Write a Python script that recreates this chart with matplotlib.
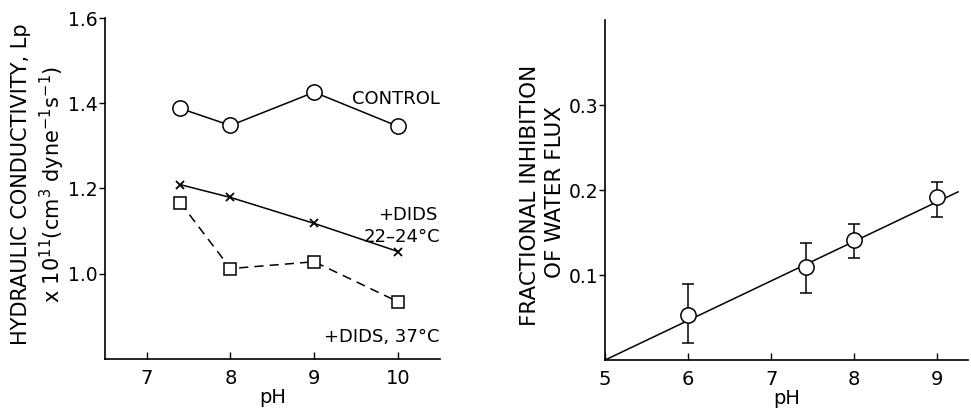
import matplotlib
matplotlib.use("Agg")
import matplotlib.pyplot as plt

plt.rcParams['font.family'] = ['DejaVu Sans']
plt.rcParams['mathtext.default'] = 'regular'

# ---- left panel data ----
ph_left = [7.4, 8, 9, 10]
control = [1.388, 1.348, 1.426, 1.346]
dids_22 = [1.209, 1.179, 1.118, 1.052]
dids_37 = [1.167, 1.012, 1.028, 0.934]
left_xticks = [7, 8, 9, 10]
left_yticks = [1.0, 1.2, 1.4, 1.6]

# ---- right panel data ----
ph_right = [6, 7.42, 8, 9]
inhibition = [0.053, 0.109, 0.141, 0.192]
err_low = [0.033, 0.030, 0.021, 0.024]
err_high = [0.037, 0.029, 0.019, 0.017]
fit_x = [5, 9.25]
fit_y = [0.0, 0.198]
right_xticks = [5, 6, 7, 8, 9]
right_yticks = [0.1, 0.2, 0.3]

fig = plt.figure(figsize=(9.71, 4.12), dpi=100)
ax1 = fig.add_axes([0.108, 0.129, 0.345, 0.827])
ax2 = fig.add_axes([0.623, 0.126, 0.374, 0.825])

lw = 1.1
for ax in (ax1, ax2):
    for s in ('top', 'right'):
        ax.spines[s].set_visible(False)
    for s in ('left', 'bottom'):
        ax.spines[s].set_linewidth(1.2)
    ax.tick_params(axis='x', direction='in', length=5, width=1, labelsize=14, pad=7)
    ax.tick_params(axis='y', direction='out', length=4, width=1, labelsize=13.5, pad=1)

# left
ax1.plot(ph_left, control, '-', color='black', lw=lw, marker='o', ms=11,
         mfc='white', mec='black', mew=1.1)
ax1.plot(ph_left, dids_22, '-', color='black', lw=lw, marker='x', ms=6, mew=1.3)
ax1.plot(ph_left, dids_37, '--', color='black', lw=lw, dashes=(6, 4), marker='s', ms=9,
         mfc='white', mec='black', mew=1.1)
ax1.set_xlim(6.5, 10.5)
ax1.set_ylim(0.8, 1.6)
ax1.set_xticks(left_xticks)
ax1.set_yticks(left_yticks)
ax1.set_yticklabels(['1.0', '1.2', '1.4', '1.6'])
ax1.set_xlabel('pH', fontsize=14, labelpad=0)
ax1.text(10.5, 1.41, 'CONTROL', fontsize=13, ha='right', va='center')
ax1.text(10.12, 1.138, '+DIDS', fontsize=13, ha='center', va='center')
ax1.text(10.5, 1.085, '22\u201324°C', fontsize=13, ha='right', va='center')
ax1.text(10.5, 0.852, '+DIDS, 37°C', fontsize=13, ha='right', va='center')
fig.text(0.022, 0.553, 'HYDRAULIC CONDUCTIVITY, Lp', rotation=90, fontsize=15,
         ha='center', va='center')
fig.text(0.054, 0.553, r'x 10$^{11}$(cm$^{3}$ dyne$^{-1}$s$^{-1}$)', rotation=90, fontsize=15,
         ha='center', va='center')

# right
ax2.plot(fit_x, fit_y, '-', color='black', lw=lw)
ax2.errorbar(ph_right, inhibition, yerr=[err_low, err_high], fmt='o', ms=11,
             mfc='white', mec='black', mew=1.1, ecolor='black', elinewidth=1.1,
             capsize=4, capthick=1.1)
ax2.set_xlim(5, 9.37)
ax2.set_ylim(0, 0.4)
ax2.set_xticks(right_xticks)
ax2.set_yticks(right_yticks)
ax2.set_yticklabels(['0.1', '0.2', '0.3'])
ax2.set_xlabel('pH', fontsize=14, labelpad=0)
fig.text(0.546, 0.525, 'FRACTIONAL INHIBITION', rotation=90, fontsize=15.5,
         ha='center', va='center')
fig.text(0.572, 0.535, 'OF WATER FLUX', rotation=90, fontsize=15.5,
         ha='center', va='center')

fig.savefig('out.png', dpi=100)
